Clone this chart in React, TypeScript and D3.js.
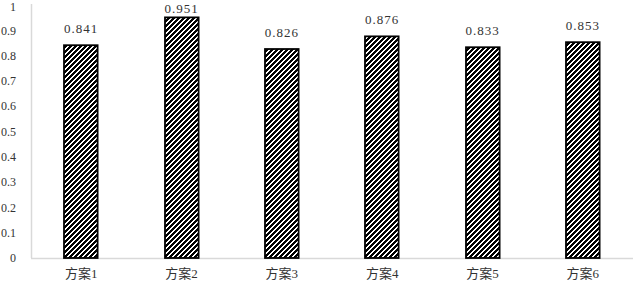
import React, { useEffect, useRef } from 'react';
import * as d3 from 'd3';

const categories = ['方案1', '方案2', '方案3', '方案4', '方案5', '方案6'];
const values = [0.841, 0.951, 0.826, 0.876, 0.833, 0.853];
const yTicks = [0, 0.1, 0.2, 0.3, 0.4, 0.5, 0.6, 0.7, 0.8, 0.9, 1];

const W = 633;
const H = 288;

export default function App() {
  const ref = useRef<SVGSVGElement>(null);

  useEffect(() => {
    const svg = d3.select(ref.current);
    svg.selectAll('*').remove();

    const left = 31;
    const right = 633;
    const top = 5;
    const bottom = 258;
    const font = '"Liberation Serif", "Noto Sans CJK SC", serif';

    const x = d3.scaleBand()
      .domain(categories)
      .range([left, right])
      .paddingInner(0.665)
      .paddingOuter(0.3325);

    const y = d3.scaleLinear()
      .domain([0, 1])
      .range([bottom, top]);

    // pixel hatch, upward diagonal
    const tile = 5;
    const defs = svg.append('defs');
    const pat = defs.append('pattern')
      .attr('id', 'hatch')
      .attr('patternUnits', 'userSpaceOnUse')
      .attr('width', tile)
      .attr('height', tile);
    pat.append('rect').attr('width', tile).attr('height', tile).attr('fill', '#fff');
    const px: [number, number][] = [];
    for (let j = 0; j < tile; j++) {
      for (let i = 0; i < tile; i++) {
        if ((i + j) % tile < 3) px.push([i, j]);
      }
    }
    pat.selectAll('rect.p')
      .data(px)
      .enter()
      .append('rect')
      .attr('class', 'p')
      .attr('x', d => d[0])
      .attr('y', d => d[1])
      .attr('width', 1)
      .attr('height', 1)
      .attr('fill', '#000')
      .attr('shape-rendering', 'crispEdges');

    // y axis line
    svg.append('line')
      .attr('x1', left + 0.5).attr('x2', left + 0.5)
      .attr('y1', y(1) - 1).attr('y2', bottom)
      .attr('stroke', '#d9d9d9')
      .attr('stroke-width', 1.5);

    // x axis line
    svg.append('line')
      .attr('x1', left).attr('x2', right)
      .attr('y1', bottom + 0.5).attr('y2', bottom + 0.5)
      .attr('stroke', '#d9d9d9')
      .attr('stroke-width', 1.5);

    svg.append('g')
      .selectAll('text')
      .data(yTicks)
      .enter()
      .append('text')
      .attr('x', 16)
      .attr('y', d => Math.max(y(d), 7))
      .attr('dy', '0.35em')
      .attr('text-anchor', 'end')
      .attr('font-family', font)
      .attr('font-size', 12)
      .attr('fill', '#333')
      .text(d => d3.format('~g')(d));

    svg.append('g')
      .selectAll('rect')
      .data(values)
      .enter()
      .append('rect')
      .attr('x', (d, i) => Math.round(x(categories[i]) || 0))
      .attr('y', d => y(d))
      .attr('width', x.bandwidth())
      .attr('height', d => bottom - y(d))
      .attr('fill', 'url(#hatch)')
      .attr('stroke', '#000')
      .attr('stroke-width', 1.8);

    svg.append('g')
      .selectAll('text')
      .data(values)
      .enter()
      .append('text')
      .attr('x', (d, i) => (x(categories[i]) || 0) + x.bandwidth() / 2)
      .attr('y', d => Math.max(y(d) - 12, 13))
      .attr('text-anchor', 'middle')
      .attr('font-family', font)
      .attr('font-size', 13)
      .attr('letter-spacing', 1)
      .attr('fill', '#333')
      .text(d => d3.format('.3f')(d));

    svg.append('g')
      .selectAll('text')
      .data(categories)
      .enter()
      .append('text')
      .attr('x', d => (x(d) || 0) + x.bandwidth() / 2)
      .attr('y', 278)
      .attr('text-anchor', 'middle')
      .attr('font-family', font)
      .attr('font-size', 13)
      .attr('fill', '#333')
      .text(d => d);
  }, []);

  return (
    <svg
      ref={ref}
      width={W}
      height={H}
      style={{ position: 'absolute', left: 0, top: 0, background: '#fff' }}
    />
  );
}
